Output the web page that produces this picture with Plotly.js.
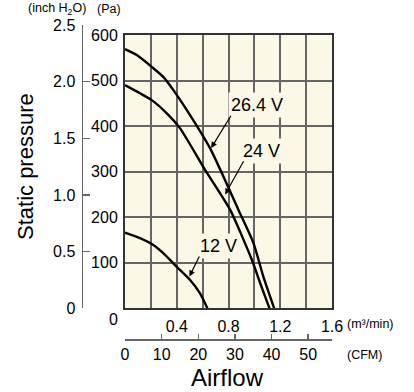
<!DOCTYPE html>
<html>
<head>
<meta charset="utf-8">
<script src="https://cdn.plot.ly/plotly-3.0.1.min.js"></script>
<style>html,body{margin:0;padding:0;background:#fff;}#chart{width:414px;height:392px;}</style>
</head>
<body>
<div id="chart"></div>
<script>
// ---- data (airflow in m3/min, static pressure in Pa) ----
const airflow_264V = [0, 0.091, 0.207, 0.296, 0.374, 0.478, 0.658, 0.877, 0.993, 1.070, 1.153];
const pressure_264V = [569, 556, 530, 508, 479, 435, 351, 216, 143, 69, 0];
const airflow_24V = [0, 0.116, 0.207, 0.323, 0.426, 0.619, 0.813, 0.981, 1.045, 1.117];
const pressure_24V = [490, 472, 457, 428, 395, 304, 216, 106, 55, 0];
const airflow_12V = [0, 0.116, 0.219, 0.296, 0.400, 0.503, 0.580, 0.637];
const pressure_12V = [166, 154, 139, 121, 91, 62, 33, 0];

const seriesNames = ['26.4 V', '24 V', '12 V'];
// label annotation positions in data units
const labelPos = {
  '26.4 V': {tx: 1.022, ty: 447, ux0: 0.826, ux1: 1.225, uy: 426, tipx: 0.666, tipy: 352},
  '24 V':   {tx: 1.058, ty: 346, ux0: 0.923, ux1: 1.213, uy: 326, tipx: 0.774, tipy: 250},
  '12 V':   {tx: 0.722, ty: 137, ux0: 0.580, ux1: 0.877, uy: 117, tipx: 0.498, tipy: 70}
};

const m3TickVals = [0.2, 0.4, 0.6, 0.8, 1.0, 1.2, 1.4, 1.6];
const m3TickText = ['', '0.4', '', '0.8', '', '1.2', '', '1.6'];
const paTickVals = [100, 200, 300, 400, 500, 600];
const paTickText = ['100', '200', '300', '400', '500', '600'];
const inchTickVals = [0, 0.5, 1.0, 1.5, 2.0, 2.5];
const inchTickText = ['0', '0.5', '1.0', '1.5', '2.0', '2.5'];
const cfmTickVals = [0, 10, 20, 30, 40, 50];
const cfmTickText = ['0', '10', '20', '30', '40', '50'];

const M3_MAX = 1.6, PA_MAX = 600, INCH_MAX = 2.5;
const CFM_PER_M3 = 1 / 0.0283168;

// ---- layout geometry ----
const W = 414, H = 392;
const mL = 83, mR = 82, mT = 25, mB = 53;
const PW = W - mL - mR, PH = H - mT - mB;
const px = v => (v - mL) / PW;
const py = v => (H - mB - v) / PH;

const bg = '#FCF8E6';
const grid = '#666666';
const axisGray = '#666666';
const numFont = '"Liberation Sans", Arial, sans-serif';
const sans = '"Liberation Sans", Arial, Helvetica, sans-serif';
const NUM = 16;

const curveStyle = {color: '#000', width: 2.4, shape: 'spline', smoothing: 0.6};
const traces = [
  {x: airflow_264V, y: pressure_264V, name: seriesNames[0], mode: 'lines', line: curveStyle, hoverinfo: 'skip'},
  {x: airflow_24V, y: pressure_24V, name: seriesNames[1], mode: 'lines', line: curveStyle, hoverinfo: 'skip'},
  {x: airflow_12V, y: pressure_12V, name: seriesNames[2], mode: 'lines', line: curveStyle, hoverinfo: 'skip'},
  {x: [], y: [], xaxis: 'x2', yaxis: 'y3', mode: 'lines', hoverinfo: 'skip', showlegend: false},
  {x: [], y: [], xaxis: 'x3', yaxis: 'y2', mode: 'lines', hoverinfo: 'skip', showlegend: false}
];

const xDom = [px(125), 1];
const yDom = [py(308.3), py(35)];

const annotations = [];
const shapes = [{type: 'rect', xref: 'x domain', yref: 'y domain', x0: 0, x1: 1, y0: 0, y1: 1,
  fillcolor: bg, line: {width: 0}, layer: 'below'}];
seriesNames.forEach(n => {
  const p = labelPos[n];
  annotations.push({xref: 'x', yref: 'y', x: p.tx, y: p.ty, text: n, showarrow: false,
    font: {family: sans, size: 18, color: '#000'}, bgcolor: bg, borderpad: 2,
    xanchor: 'center', yanchor: 'middle'});
  annotations.push({xref: 'x', yref: 'y', axref: 'x', ayref: 'y', x: p.tipx, y: p.tipy,
    ax: p.ux0, ay: p.uy, text: '', showarrow: true, arrowhead: 2, arrowsize: 1,
    arrowwidth: 1.2, arrowcolor: '#000', standoff: 0, startstandoff: 0});
  shapes.push({type: 'line', xref: 'x', yref: 'y', x0: p.ux0, x1: p.ux1, y0: p.uy, y1: p.uy,
    line: {color: '#000', width: 1.2}});
});

const txt = (text, x, y, size, family, extra) => Object.assign({
  xref: 'paper', yref: 'paper', x: px(x), y: py(y), text: text, showarrow: false,
  font: {family: family, size: size, color: '#000'}, xanchor: 'center', yanchor: 'middle'}, extra || {});

annotations.push(txt('(inch H<sub>2</sub>O)', 57, 9, 12.5, sans));
annotations.push(txt('(Pa)', 109, 9, 12.5, sans));
annotations.push(txt('(m³/min)', 345, 324, 12.5, sans, {xanchor: 'left'}));
annotations.push(txt('(CFM)', 364, 355, 12.5, sans));
annotations.push(txt('0', 113, 319, NUM, numFont));
annotations.push(txt('Static pressure', 25, 167, 22, sans, {textangle: -90}));
annotations.push(txt('Airflow', 227, 377, 24, sans));

const layout = {
  width: W, height: H,
  margin: {l: mL, r: mR, t: mT, b: mB, pad: 0},
  paper_bgcolor: '#fff', plot_bgcolor: 'rgba(0,0,0,0)',
  showlegend: false,
  xaxis: {
    domain: xDom, range: [0, M3_MAX], tickvals: m3TickVals, ticktext: m3TickText,
    showgrid: true, gridcolor: grid, gridwidth: 2, zeroline: false,
    showline: true, mirror: true, linecolor: '#333', linewidth: 2,
    ticks: '', ticklabelstandoff: 2, anchor: 'y',
    tickfont: {family: numFont, size: NUM, color: '#000'}
  },
  yaxis: {
    domain: yDom, range: [0, PA_MAX], tickvals: paTickVals, ticktext: paTickText,
    showgrid: true, gridcolor: grid, gridwidth: 2, zeroline: false,
    showline: true, mirror: true, linecolor: '#333', linewidth: 2,
    ticks: '', ticklabelstandoff: 2, anchor: 'x',
    tickfont: {family: numFont, size: NUM, color: '#000'}
  },
  // CFM axis, anchored to an invisible hairline axis at the bottom of the paper
  xaxis2: {
    anchor: 'y3', domain: xDom,
    range: [0, M3_MAX * CFM_PER_M3], tickvals: cfmTickVals, ticktext: cfmTickText,
    showgrid: false, zeroline: false, showline: true, linecolor: axisGray, linewidth: 1.5,
    ticks: 'inside', ticklen: 5, tickwidth: 1.5, tickcolor: axisGray, ticklabelstandoff: 0,
    tickfont: {family: numFont, size: NUM, color: '#000'}
  },
  yaxis3: {anchor: 'x2', domain: [0, 0.0005], range: [0, 1], visible: false},
  // inch H2O axis, anchored to an invisible hairline axis at the left of the paper
  yaxis2: {
    anchor: 'x3', side: 'left', domain: [py(308.3), 1],
    range: [0, INCH_MAX], tickvals: inchTickVals, ticktext: inchTickText,
    showgrid: false, zeroline: false, showline: true, linecolor: axisGray, linewidth: 1.5,
    ticks: 'inside', ticklen: 7, tickwidth: 1.5, tickcolor: axisGray, ticklabelstandoff: 3,
    tickfont: {family: numFont, size: NUM, color: '#000'}
  },
  xaxis3: {anchor: 'y2', domain: [0, 0.0005], range: [0, 1], visible: false},
  annotations: annotations,
  shapes: shapes
};

Plotly.newPlot('chart', traces, layout, {staticPlot: true, displayModeBar: false});
</script>
</body>
</html>
